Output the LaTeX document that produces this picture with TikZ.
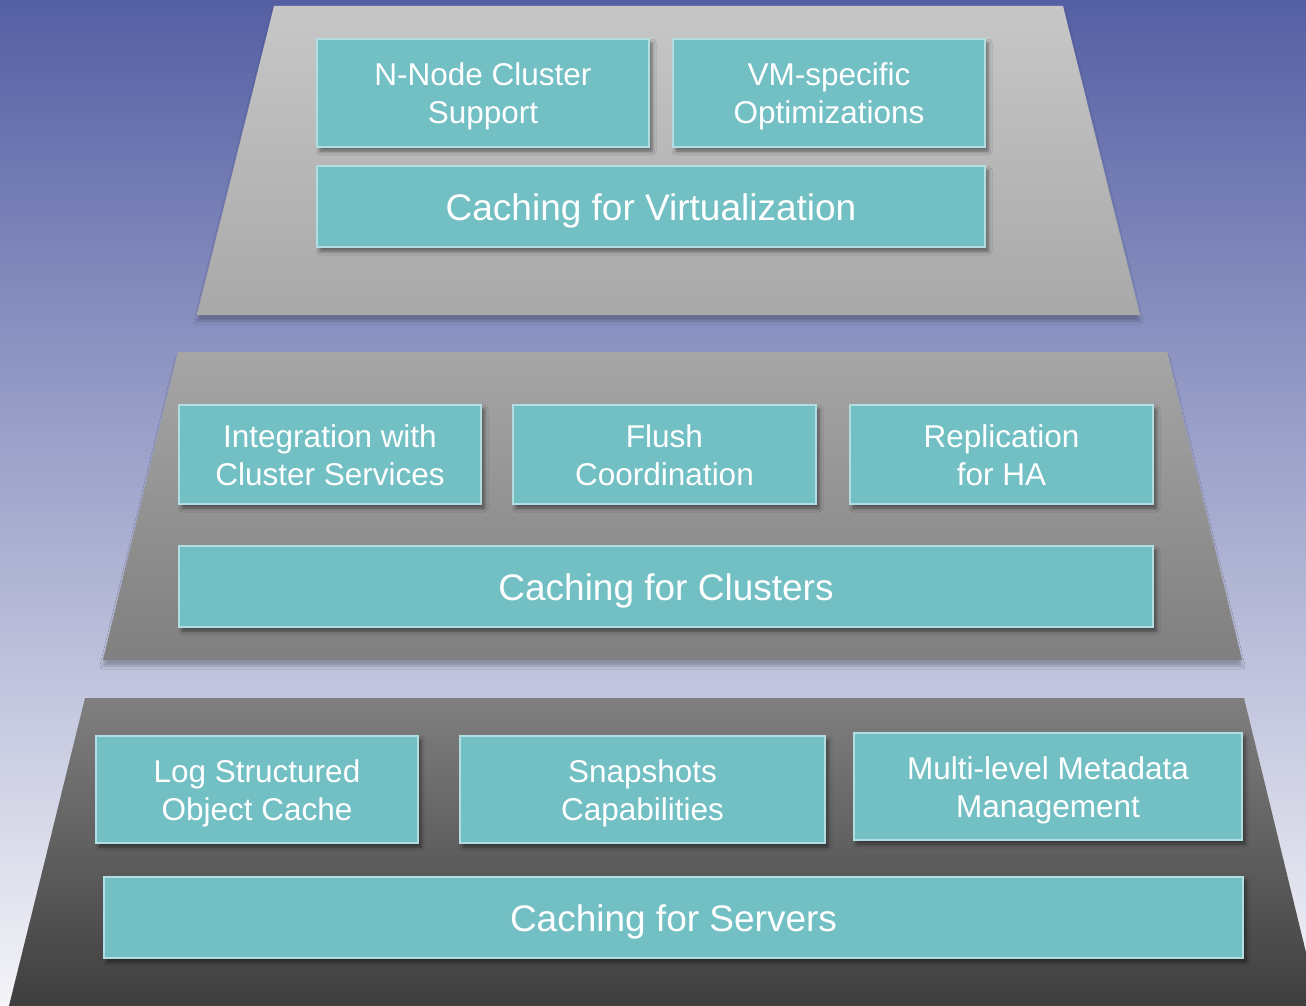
\documentclass[tikz,border=0pt]{standalone}
\usepackage{fontspec}
\setmainfont{Liberation Sans}
\usetikzlibrary{shadows.blur}

\definecolor{bgtop}{HTML}{5560A4}
\definecolor{bgmid}{HTML}{B3B4D2}
\definecolor{bgbot}{HTML}{F4F4F8}
\definecolor{tealfill}{HTML}{72BFC4}
\definecolor{tealedge}{HTML}{B2DEE1}

% box labels, drawn a little below the geometric centre of the box
\newcommand{\minorlabel}[1]{\raisebox{-4pt}[\height][\depth]{\begin{tabular}{@{}c@{}}#1\end{tabular}}}
\newcommand{\majorlabel}[1]{\raisebox{-5pt}[\height][\depth]{\begin{tabular}{@{}c@{}}#1\end{tabular}}}

\tikzset{
  tierbox/.style={draw=tealedge, line width=2.5pt, fill=tealfill, text=white,
    inner sep=0pt, outer sep=0pt,
    blur shadow={shadow xshift=3pt, shadow yshift=-4pt, shadow blur radius=4pt, shadow opacity=50}},
  small/.style={tierbox, font=\fontsize{31.5}{38}\selectfont},
  big/.style={tierbox, font=\fontsize{37}{44}\selectfont},
  layer/.style={blur shadow={shadow xshift=0pt, shadow yshift=-6pt, shadow blur radius=3pt, shadow opacity=25}},
}

\begin{document}
\begin{tikzpicture}[x=1pt, y=-1pt]
  % page and background gradient
  \useasboundingbox (0,0) rectangle (1306,1006);
  \shade[top color=bgtop, middle color=bgmid, bottom color=bgbot] (0,0) rectangle (1306,1006);

  % the three layers of the stack
  \begin{scope}
    \clip (0,0) rectangle (1306,1006);
    \shade[layer, top color=black!22, bottom color=black!34]
      (274,6) -- (1063,6) -- (1140,315) -- (197,315) -- cycle;
    \shade[layer, top color=black!35, bottom color=black!50]
      (178,352) -- (1167,352) -- (1242,660) -- (103,660) -- cycle;
    \shade[top color=black!50, bottom color=black!76]
      (85,698) -- (1244,698) -- (1320,1010) -- (8,1010) -- cycle;
  \end{scope}

  % top layer: virtualization
  \node[small, minimum width=332, minimum height=108] (nnode) at (483,93) {\minorlabel{N-Node Cluster\\Support}};
  \node[small, minimum width=312, minimum height=108] (vmopt) at (829,93) {\minorlabel{VM-specific\\Optimizations}};
  \node[big, minimum width=668, minimum height=81] (virt) at (651,206.5) {\majorlabel{Caching for Virtualization}};

  % middle layer: clusters
  \node[small, minimum width=302, minimum height=99] (integ) at (330,454.5) {\minorlabel{Integration with\\Cluster Services}};
  \node[small, minimum width=303, minimum height=99] (flush) at (664.5,454.5) {\minorlabel{Flush\\Coordination}};
  \node[small, minimum width=303, minimum height=99] (repl) at (1001.5,454.5) {\minorlabel{Replication\\for HA}};
  \node[big, minimum width=974, minimum height=81] (clust) at (666,586.5) {\majorlabel{Caching for Clusters}};

  % bottom layer: servers
  \node[small, minimum width=322, minimum height=107] (logc) at (257,789.5) {\minorlabel{Log Structured\\Object Cache}};
  \node[small, minimum width=365, minimum height=107] (snap) at (642.5,789.5) {\minorlabel{Snapshots\\Capabilities}};
  \node[small, minimum width=388, minimum height=107] (meta) at (1048,786.5) {\minorlabel{Multi-level Metadata\\Management}};
  \node[big, minimum width=1139, minimum height=81] (serv) at (673.5,917.5) {\majorlabel{Caching for Servers}};
\end{tikzpicture}
\end{document}
